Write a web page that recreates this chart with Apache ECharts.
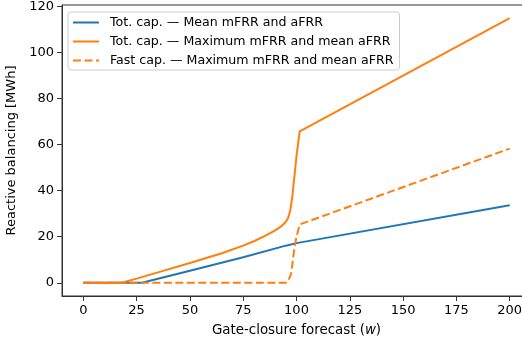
<!DOCTYPE html>
<html>
<head>
<meta charset="utf-8">
<script src="https://cdn.jsdelivr.net/npm/echarts@6/dist/echarts.min.js"></script>
<style>
html,body{margin:0;padding:0;background:#fff;}
#chart{width:522px;height:343px;}
</style>
</head>
<body>
<div id="chart"></div>
<script>
// Data
var seriesNames = [
  'Tot. cap. \u2014 Mean mFRR and aFRR',
  'Tot. cap. \u2014 Maximum mFRR and mean aFRR',
  'Fast cap. \u2014 Maximum mFRR and mean aFRR'
];
var meanTotX = [0, 25, 27.5, 50, 75, 95, 100, 200];
var meanTotY = [0, 0, 0, 5.2, 11.1, 16.1, 17.2, 33.6];
var maxTotX = [0, 18, 25, 35, 50, 65, 75, 80, 85, 90, 93, 95, 96, 97, 98, 99, 100, 101.5, 200];
var maxTotY = [0, 0, 1.8, 4.5, 8.6, 12.8, 16.1, 18.0, 20.2, 22.7, 24.6, 26.5, 28.0, 31.0, 37.0, 46.0, 55.0, 65.7, 114.8];
var maxFastX = [0, 95, 96, 97.5, 99, 100, 101.5, 200];
var maxFastY = [0, 0, 0.5, 4.0, 15.0, 20.0, 25.3, 58.2];
var xTicks = [0, 25, 50, 75, 100, 125, 150, 175, 200];
var yTicks = [0, 20, 40, 60, 80, 100, 120];

function pairs(xs, ys) { return xs.map(function (x, i) { return [x, ys[i]]; }); }

var font = 'DejaVu Sans';
var fs = 13;
var chart = echarts.init(document.getElementById('chart'), null, {renderer: 'canvas'});
chart.setOption({
  animation: false,
  backgroundColor: '#fff',
  textStyle: {fontFamily: font},
  grid: {left: 62, top: 5, height: 291, width: 469, containLabel: false, outerBoundsMode: 'none',
         show: true, borderColor: '#333', borderWidth: 1, backgroundColor: 'transparent'},
  legend: {
    orient: 'vertical', left: 68, top: 12,
    itemWidth: 26, itemHeight: 14, itemGap: 6,
    padding: [4, 6, 3, 4],
    backgroundColor: 'rgba(255,255,255,0.8)',
    borderColor: '#cccccc', borderWidth: 1, borderRadius: 3,
    itemStyle: {opacity: 0},
    textStyle: {fontFamily: font, fontSize: 12.6, color: '#000', padding: [0, 0, 0, 6]},
    data: seriesNames
  },
  xAxis: {
    type: 'value', min: -10, max: 210,
    splitLine: {show: false},
    axisLine: {onZero: false, lineStyle: {color: '#333'}},
    axisTick: {show: true, length: 5, customValues: xTicks, lineStyle: {color: '#333'}},
    axisLabel: {customValues: xTicks, margin: 8, fontFamily: font, fontSize: fs, color: '#000'},
    name: '{a|Gate-closure forecast (}{i|w}{a|)}',
    nameLocation: 'middle', nameGap: 28,
    nameTextStyle: {rich: {
      a: {fontFamily: font, fontSize: 13.4, color: '#000'},
      i: {fontFamily: font, fontSize: 13.4, color: '#000', fontStyle: 'italic'}
    }}
  },
  yAxis: {
    type: 'value', min: -5.74, max: 120.5,
    splitLine: {show: false},
    axisLine: {onZero: false, lineStyle: {color: '#333'}},
    axisTick: {show: true, length: 5, customValues: yTicks, lineStyle: {color: '#333'}},
    axisLabel: {customValues: yTicks, margin: 8, fontFamily: font, fontSize: fs, color: '#000'},
    name: 'Reactive balancing [MWh]',
    nameLocation: 'middle', nameGap: 40,
    nameTextStyle: {fontFamily: font, fontSize: 13, color: '#000'}
  },
  series: [
    {name: seriesNames[0], type: 'line', data: pairs(meanTotX, meanTotY), showSymbol: false, symbol: 'none',
     lineStyle: {color: '#1f77b4', width: 2}, itemStyle: {color: '#1f77b4'}, z: 3},
    {name: seriesNames[1], type: 'line', data: pairs(maxTotX, maxTotY), showSymbol: false, symbol: 'none',
     lineStyle: {color: '#ff7f0e', width: 2}, itemStyle: {color: '#ff7f0e'}, z: 4},
    {name: seriesNames[2], type: 'line', data: pairs(maxFastX, maxFastY), showSymbol: false, symbol: 'none',
     lineStyle: {color: '#ff7f0e', width: 2, type: [8, 3.5]}, itemStyle: {color: '#ff7f0e'}, z: 5}
  ]
});
</script>
</body>
</html>
